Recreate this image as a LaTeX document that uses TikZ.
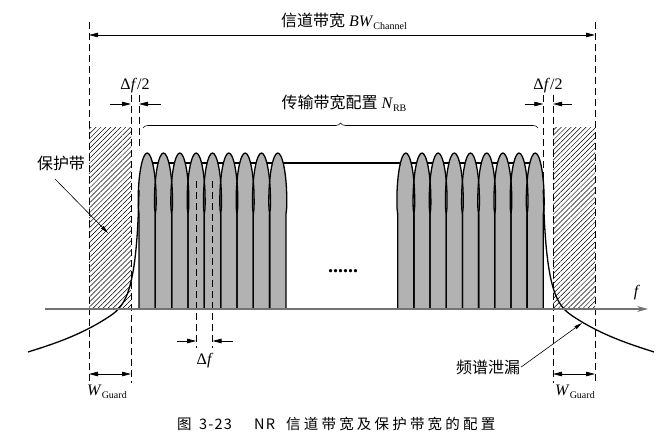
\documentclass[tikz,border=0pt]{standalone}
\usepackage{fontspec}
\setmainfont{Liberation Serif}
\newfontfamily\cjk{Noto Sans CJK SC}
\newfontfamily\capfont[LetterSpace=22]{Noto Sans CJK SC}
\newfontfamily\capnum[LetterSpace=8]{Noto Sans CJK SC}
\usetikzlibrary{arrows.meta, decorations.pathreplacing, patterns.meta, positioning}

\tikzset{
  guide/.style={dash pattern=on 7pt off 4pt, line width=0.8pt},
  lobeline/.style={line width=1.3pt, line join=round},
  dimarrow/.style={line width=0.8pt, -{Triangle[length=9pt,width=4.5pt]}},
  bothdim/.style={line width=0.8pt, {Triangle[length=9pt,width=4.5pt]}-{Triangle[length=9pt,width=4.5pt]}},
  pointer/.style={line width=0.6pt, -{Triangle[length=8pt,width=3.5pt]}},
  hatch/.style={pattern={Lines[angle=45,distance=3.5pt,line width=0.5pt]}},
  lbl/.style={inner sep=1pt, font=\fontsize{16}{19}\selectfont}
}
\newcommand{\sub}[1]{\raisebox{-3pt}{\fontsize{10}{12}\selectfont #1}}
% one subcarrier: #1 centre, #2 half width
\newcommand{\lobe}[2]{(#1-#2,309) -- (#1-#2,214) .. controls (#1-#2-0.8,208) .. (#1-#2-0.8,200) .. controls (#1-#2-0.8,174) and (#1-4.6,153) .. (#1,153) .. controls (#1+4.6,153) and (#1+#2+0.8,174) .. (#1+#2+0.8,200) .. controls (#1+#2+0.8,208) .. (#1+#2,214) -- (#1+#2,309)}

\begin{document}
\begin{tikzpicture}[x=1pt, y=-1pt]
    \useasboundingbox (0,0) rectangle (659,436);
    % guard bands
    \fill[hatch] (89,127) rectangle (131,309);
    \fill[hatch] (553,127) rectangle (595,309);
    % subcarriers
    \draw[lobeline] (147,163) -- (535.5,163);
    \foreach \x/\s in {139/16.33, 397.7/16.18} {
        \foreach \i in {0,...,8} {
            \pgfmathsetmacro\c{\x+\s*(\i+0.5)}
            \pgfmathsetmacro\h{\s/2}
            \fill[black!30] \lobe{\c}{\h};
        }
    }
    \foreach \x/\s in {139/16.33, 397.7/16.18} {
        \foreach \i in {0,...,8} {
            \pgfmathsetmacro\c{\x+\s*(\i+0.5)}
            \pgfmathsetmacro\h{\s/2}
            \draw[lobeline] \lobe{\c}{\h};
        }
    }
    % leakage
    \draw[lobeline] (139,190) .. controls (137,290) and (126,305.3) .. (110,316) .. controls (80,336) and (50,345) .. (28,352);
    \draw[lobeline] (543.3,190) .. controls (545.5,290) and (556.5,305.3) .. (572.5,316) .. controls (602.5,336) and (632.5,345) .. (654,352);
    % dashed guides
    \foreach \n/\x/\ya/\yb in {oL/89/22/383, iL/131/95/383, sL/139/95/150, sR/543.3/95/200, iR/553/95/383, oR/595/22/383, dA/196.2/181/348, dB/212.5/181/348} {
        \coordinate (\n-t) at (\x,\ya);
        \coordinate (\n-b) at (\x,\yb);
        \draw[guide] (\n-t) -- (\n-b);
    }
    % frequency axis
    \coordinate (ax0) at (45,309);
    \coordinate (ax1) at (648,309);
    \draw[line width=1.1pt, draw=black!55, -{Stealth[length=11pt,width=6pt]}] (ax0) -- (ax1);
    \node[lbl] (flbl) at (637,293) {\textit{f}};
    % channel bandwidth
    \coordinate (bw1) at (89,35);
    \coordinate (bw2) at (595,35);
    \draw[bothdim] (bw1) -- (bw2);
    \node[lbl] (bwlbl) at (344,21) {{\cjk 信道带宽} \textit{BW}\sub{Channel}};
    % transmission bandwidth
    \coordinate (br1) at (143,128);
    \coordinate (br2) at (538,128);
    \draw[decorate, decoration={brace, amplitude=5pt}, line width=0.6pt] (br1) -- (br2);
    \node[lbl] (nrblbl) at (344,103) {{\cjk 传输带宽配置} \textit{N}\sub{RB}};
    % half subcarrier spacing
    \coordinate (hl1) at (110,104);
    \coordinate (hl2) at (131,104);
    \coordinate (hl3) at (161,104);
    \coordinate (hl4) at (139,104);
    \draw[dimarrow] (hl1) -- (hl2);
    \draw[dimarrow] (hl3) -- (hl4);
    \node[lbl] (hllbl) at (135,86) {Δ\textit{f}/2};
    \coordinate (hr1) at (525,104);
    \coordinate (hr2) at (543.3,104);
    \coordinate (hr3) at (572,104);
    \coordinate (hr4) at (553,104);
    \draw[dimarrow] (hr1) -- (hr2);
    \draw[dimarrow] (hr3) -- (hr4);
    \node[lbl] (hrlbl) at (548,86) {Δ\textit{f}/2};
    % subcarrier spacing
    \coordinate (df1) at (177,341);
    \coordinate (df2) at (196.2,341);
    \coordinate (df3) at (233,341);
    \coordinate (df4) at (212.5,341);
    \draw[dimarrow] (df1) -- (df2);
    \draw[dimarrow] (df3) -- (df4);
    \node[lbl] (dflbl) at (205,361) {Δ\textit{f}};
    % guard widths
    \coordinate (wl1) at (89,374);
    \coordinate (wl2) at (131,374);
    \draw[bothdim] (wl1) -- (wl2);
    \node[lbl] (wllbl) at (107,392) {\textit{W}\sub{Guard}};
    \coordinate (wr1) at (553,374);
    \coordinate (wr2) at (595,374);
    \draw[bothdim] (wr1) -- (wr2);
    \node[lbl] (wrlbl) at (575,392) {\textit{W}\sub{Guard}};
    % callouts
    \node[lbl] (guardlbl) at (61,163) {\cjk 保护带};
    \coordinate (guardtail) at (55,179);
    \coordinate (guardpt) at (108,233);
    \draw[pointer] (guardtail) -- (guardpt);
    \node[lbl] (leaklbl) at (488,367) {\cjk 频谱泄漏};
    \coordinate (leakpt) at (582,323);
    \draw[pointer] (leaklbl.east) -- (leakpt);
    \node[lbl, font=\fontsize{20}{20}\selectfont\bfseries] (dots) at (343,271) {......};
    % caption
    \node[inner sep=0pt, anchor=west, font=\fontsize{14.5}{16}\selectfont] (cap) at (177,424) {\makebox[22pt][l]{\capfont 图}\makebox[55pt][l]{\capnum 3-23}\makebox[32pt][l]{\capnum NR}{\capfont 信道带宽及保护带宽的配置}};
\end{tikzpicture}
\end{document}
